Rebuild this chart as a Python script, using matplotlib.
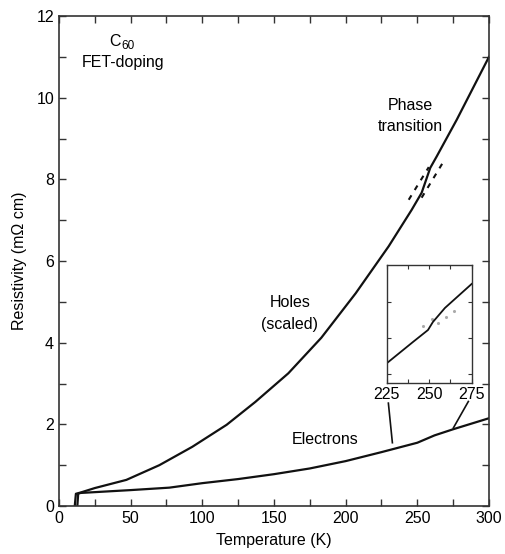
import matplotlib
matplotlib.use("Agg")
from matplotlib import pyplot as plt

plt.rcParams['font.family'] = ['Liberation Sans', 'DejaVu Sans']

# holes (scaled) resistivity vs temperature
holes_T = [11.0, 11.8, 15, 25, 47, 70, 93, 117, 137, 160, 183, 207, 230, 246, 253, 259, 263.5, 277.5, 300]
holes_R = [0.0, 0.30, 0.33, 0.44, 0.64, 1.00, 1.45, 1.99, 2.55, 3.25, 4.12, 5.21, 6.36, 7.25, 7.67, 8.28, 8.56, 9.46, 11.0]

# electrons resistivity vs temperature
elec_T = [12.8, 13.4, 15, 50, 77, 100, 125, 150, 175, 200, 225, 250, 256, 262, 275, 300]
elec_R = [0.0, 0.30, 0.32, 0.39, 0.45, 0.56, 0.66, 0.78, 0.92, 1.10, 1.32, 1.55, 1.64, 1.73, 1.88, 2.15]

# dashed extrapolations at the phase transition
dash_left_T = [244, 258]
dash_left_R = [7.50, 8.30]
dash_right_T = [253, 268]
dash_right_R = [7.55, 8.42]

# pointer lines from inset to the electrons curve
ptr1_T = [229.8, 232.6]
ptr1_R = [2.52, 1.55]
ptr2_T = [285.6, 275.1]
ptr2_R = [2.56, 1.91]

# inset (zoom of electrons curve 225-275 K)
inset_T = [225, 240.5, 249.3, 252.2, 259.3, 275]
inset_R = [1.325, 1.474, 1.557, 1.613, 1.711, 1.878]
inset_dots_T = [246.4, 251.6, 255.0, 260.0, 264.6]
inset_dots_R = [1.584, 1.633, 1.608, 1.649, 1.690]

fig = plt.figure(figsize=(5.05, 5.54), dpi=100)
ax = fig.add_axes([0.1168, 0.0866, 0.8515, 0.8845])

lc = '#111111'
ax.plot(holes_T, holes_R, color=lc, linewidth=1.6, solid_joinstyle='round')
ax.plot(elec_T, elec_R, color=lc, linewidth=1.6, solid_joinstyle='round')
ax.plot(dash_left_T, dash_left_R, color=lc, linewidth=1.5, dashes=(2.5, 3))
ax.plot(dash_right_T, dash_right_R, color=lc, linewidth=1.5, dashes=(2.5, 3))
ax.plot(ptr1_T, ptr1_R, color=lc, linewidth=1.2)
ax.plot(ptr2_T, ptr2_R, color=lc, linewidth=1.2)

fs = 11.5
ax.set_xlim(0, 300)
ax.set_ylim(0, 12)
ax.set_xticks(range(0, 301, 50))
ax.set_xticks(range(25, 300, 50), minor=True)
ax.set_yticks(range(0, 13, 2))
ax.set_yticks(range(1, 12, 2), minor=True)
ax.tick_params(which='both', direction='in', top=True, right=True, length=5, width=1.0,
               labelsize=fs, color='#333333')
for sp in ax.spines.values():
    sp.set_linewidth(1.2)
    sp.set_color('#333333')
ax.set_xlabel('Temperature (K)', fontsize=fs, labelpad=5)
ax.set_ylabel('Resistivity (m\u03a9 cm)', fontsize=fs, labelpad=7)

# C60 label with a large subscript
ax.text(43.4, 11.38, 'C', ha='right', va='center', fontsize=fs)
ax.text(43.6, 11.26, '60', ha='left', va='center', fontsize=8.5)
ax.text(44.7, 10.86, 'FET-doping', ha='center', va='center', fontsize=fs)
ax.text(245, 9.8, 'Phase', ha='center', va='center', fontsize=fs)
ax.text(245, 9.29, 'transition', ha='center', va='center', fontsize=fs)
ax.text(161, 4.98, 'Holes', ha='center', va='center', fontsize=fs)
ax.text(161, 4.44, '(scaled)', ha='center', va='center', fontsize=fs)
ax.text(186, 1.62, 'Electrons', ha='center', va='center', fontsize=fs)

ins = fig.add_axes([0.7657, 0.3092, 0.1683, 0.2125])
ins.plot(inset_T, inset_R, color=lc, linewidth=1.3, solid_joinstyle='round')
ins.scatter(inset_dots_T, inset_dots_R, s=1.5, color='#aaaaaa')
ins.set_xlim(225, 275)
ins.set_ylim(1.19, 2.01)
ins.set_xticks([225, 250, 275])
ins.set_xticks([237.5, 262.5], minor=True)
ins.set_yticks([1.25, 1.5, 1.75])
ins.set_yticklabels([])
ins.tick_params(which='both', direction='in', top=True, right=True, length=3, width=0.8,
                labelsize=fs, color='#333333', pad=3)
for sp in ins.spines.values():
    sp.set_linewidth(1.0)
    sp.set_color('#333333')

fig.savefig('out.png', dpi=100)
